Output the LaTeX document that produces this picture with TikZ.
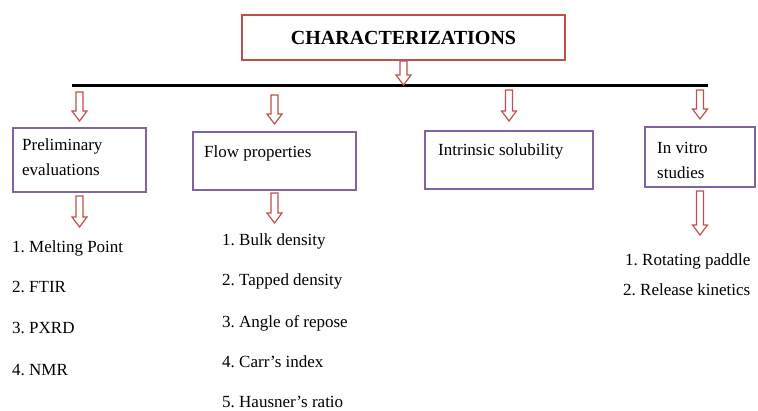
\documentclass[tikz,border=0pt]{standalone}
\usepackage{fontspec}
\setmainfont{Liberation Serif}
\usetikzlibrary{calc}
\frenchspacing
\definecolor{boxred}{RGB}{192,80,77}
\definecolor{boxpurple}{RGB}{128,100,162}
\tikzset{
  titlebox/.style={draw=boxred, line width=2pt, minimum width=323pt, minimum height=45pt, inner sep=0pt,
    font=\fontsize{20}{24}\selectfont\bfseries},
  catbox/.style={draw=boxpurple, line width=2pt, inner sep=0pt},
  txt/.style={inner sep=0pt, anchor=base west, font=\fontsize{17}{25}\selectfont\frenchspacing},
  hollow/.style={draw=boxred, line width=1.2pt, fill=white, line join=miter},
  bar/.style={line width=3pt, black}
}
% #1 point giving start y, #2 point giving x and end y, #3 gap at start, #4 gap at end
\newcommand\hollowarrow[4]{%
  \draw[hollow] let \p1=(#1), \p2=(#2) in
   (\x2-3.5pt,\y1-#3) -- (\x2-3.5pt,\y2+#4+10pt) -- (\x2-7.5pt,\y2+#4+10pt) --
   (\x2,\y2+#4) -- (\x2+7.5pt,\y2+#4+10pt) -- (\x2+3.5pt,\y2+#4+10pt) --
   (\x2+3.5pt,\y1-#3) -- cycle;}
\begin{document}
\begin{tikzpicture}[x=1pt,y=-1pt]
\useasboundingbox (0,0) rectangle (758,410);
% title
\node[titlebox] (title) at (403.5,37.5) {CHARACTERIZATIONS};
% bar
\coordinate (barL) at (72,85);
\coordinate (barR) at (708,85);
\draw[bar] (barL) -- (barR);
% category boxes
\node[catbox, minimum width=133pt, minimum height=64pt] (pe) at (79.5,160) {};
\node[catbox, minimum width=163pt, minimum height=58pt] (fp) at (274.5,161) {};
\node[catbox, minimum width=168pt, minimum height=58pt] (is) at (509,160) {};
\node[catbox, minimum width=110pt, minimum height=60pt] (iv) at (700,157) {};
\node[txt, align=left] (pet) at (22,175) {Preliminary\\evaluations};
\node[txt] (fpt) at (204,157) {Flow properties};
\node[txt] (ist) at (438,155) {Intrinsic solubility};
\node[txt, align=left] (ivt) at (657,178) {In vitro\\studies};
% lists
\node[txt] (m1) at (12,252) {1. Melting Point};
\node[txt] (m2) at (12,292) {2. FTIR};
\node[txt] (m3) at (12,333) {3. PXRD};
\node[txt] (m4) at (12,375) {4. NMR};
\node[txt] (f1) at (222,245) {1. Bulk density};
\node[txt] (f2) at (222,285) {2. Tapped density};
\node[txt] (f3) at (222,327) {3. Angle of repose};
\node[txt] (f4) at (222,367) {4. Carr’s index};
\node[txt] (f5) at (222,407) {5. Hausner’s ratio};
\node[txt] (v1) at (625,265) {1. Rotating paddle};
\node[txt] (v2) at (623,295) {2. Release kinetics};
% arrows
\hollowarrow{title.south}{title.south |- barL}{0pt}{0pt}
\hollowarrow{barL}{pe.north}{7pt}{6pt}
\hollowarrow{barL}{fp.north}{10pt}{7pt}
\hollowarrow{barL}{is.north}{5pt}{9pt}
\hollowarrow{barL}{iv.north}{5pt}{7pt}
\hollowarrow{pe.south}{pe.south |- m1.north}{3pt}{13pt}
\hollowarrow{fp.south}{fp.south |- f1.north}{2pt}{10pt}
\hollowarrow{iv.south}{iv.south |- v1.north}{3pt}{18pt}
\end{tikzpicture}
\end{document}
